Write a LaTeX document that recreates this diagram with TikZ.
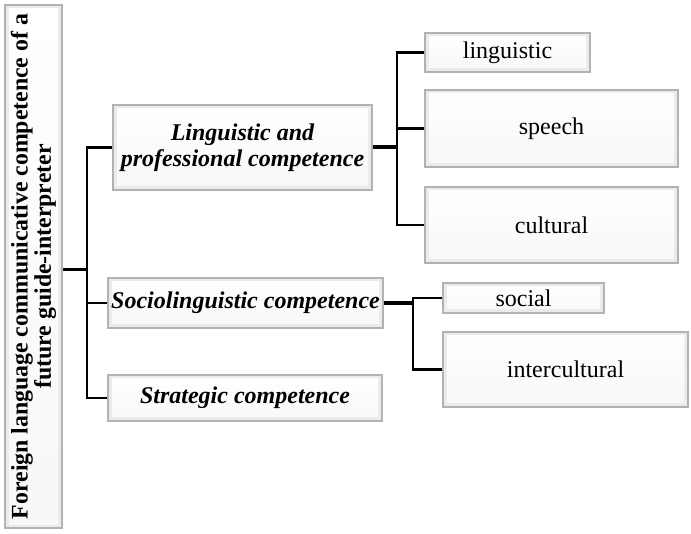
\documentclass[tikz,border=0pt]{standalone}
\usepackage{fontspec}
\setmainfont{Liberation Serif}
\usepackage{graphicx}
\tikzset{
  bevel/.style={draw=gray!60, line width=1.2pt, fill=gray!16, inner sep=0pt, align=center,
    font=\fontsize{24}{26}\selectfont,
    path picture={\shade[top color=white, bottom color=gray!6]
      ([shift={(4pt,-4pt)}]path picture bounding box.north west) rectangle
      ([shift={(-4pt,4pt)}]path picture bounding box.south east);}},
  comp/.style={bevel, font=\fontsize{24}{26}\selectfont\bfseries\itshape},
  conn/.style={draw=black, line width=2.2pt},
  thickconn/.style={draw=black, line width=4pt},
  rootconn/.style={draw=black, line width=3pt}
}
\begin{document}
\begin{tikzpicture}[x=1pt,y=-1pt]
\useasboundingbox (0,0) rectangle (691,534);
% root
\node[bevel, minimum width=57pt, minimum height=523pt] (root) at (33.5,266.5)
  {\rotatebox{90}{\parbox{515pt}{\centering\fontsize{23.8}{21}\selectfont\bfseries Foreign language communicative competence of a\\ future guide-interpreter}}};
% level 1
\node[comp, minimum width=259pt, minimum height=85pt] (lpc) at (242.5,147.5) {Linguistic and\\ professional competence};
\node[comp, minimum width=275pt, minimum height=50pt] (soc) at (245.5,303) {Sociolinguistic competence};
\node[comp, minimum width=274pt, minimum height=46pt] (str) at (245,398) {Strategic competence};
% level 2
\node[bevel, minimum width=165pt, minimum height=39pt] (ling) at (507.5,52.5) {linguistic};
\node[bevel, minimum width=253pt, minimum height=77pt] (speech) at (551.5,128.5) {speech};
\node[bevel, minimum width=253pt, minimum height=76pt] (cult) at (551.5,225) {cultural};
\node[bevel, minimum width=161pt, minimum height=30pt] (social) at (523.5,298) {social};
\node[bevel, minimum width=245pt, minimum height=75pt] (inter) at (565.5,369.5) {intercultural};
% junctions
\coordinate (j0) at (87,270);
\coordinate (j1) at (397,147.5);
\coordinate (j2) at (413,303);
% connectors
\draw[rootconn] (root.east |- j0) -- (j0);
\draw[conn] (lpc.west) -| (j0);
\draw[conn] (str.west) -| (j0);
\draw[conn] (soc.west) -- (soc.west -| j0);
\draw[thickconn] (lpc.east) -- (j1);
\draw[conn] (ling.west) -| (j1);
\draw[conn] (cult.west) -| (j1);
\draw[conn] (speech.west) -- (speech.west -| j1);
\draw[thickconn] (soc.east) -- (j2);
\draw[conn] (social.west) -| (j2);
\draw[conn] (inter.west) -| (j2);
\end{tikzpicture}
\end{document}
